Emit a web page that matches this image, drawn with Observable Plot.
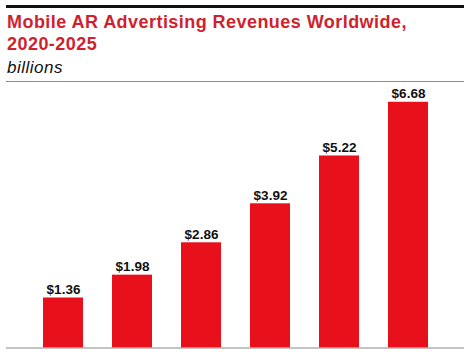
<!DOCTYPE html>
<html>
<head>
<meta charset="utf-8">
<script src="https://cdn.jsdelivr.net/npm/d3@7"></script>
<script src="https://cdn.jsdelivr.net/npm/@observablehq/plot@0.6"></script>
<style>
  html, body { margin: 0; padding: 0; background: #fff; }
  #wrap { position: relative; width: 470px; height: 352px; overflow: hidden; font-family: "Liberation Sans", Arial, sans-serif; }
  #topline { position: absolute; left: 6px; top: 5px; width: 458px; height: 3px; background: #111; }
  #title { position: absolute; left: 7px; top: 11px; margin: 0; font-size: 18px; line-height: 22px; font-weight: bold; color: #d11f2e; letter-spacing: 0.45px; }
  #subtitle { position: absolute; left: 7px; top: 57.5px; font-size: 17px; font-style: italic; color: #111; letter-spacing: 0.5px; }
  #rule { position: absolute; left: 6px; top: 80.5px; width: 458px; height: 1px; background: #8a8a8a; }
  #chart { position: absolute; left: 0; top: 82px; }
</style>
</head>
<body>
<div id="wrap">
  <div id="topline"></div>
  <h1 id="title">Mobile AR Advertising Revenues Worldwide,<br>2020-2025</h1>
  <div id="subtitle">billions</div>
  <div id="rule"></div>
  <div id="chart"></div>
</div>
<script>
const years = ["2020", "2021", "2022", "2023", "2024", "2025"];
const revenues = [1.36, 1.98, 2.86, 3.92, 5.22, 6.68];
const valueLabels = ["$1.36", "$1.98", "$2.86", "$3.92", "$5.22", "$6.68"];

const data = years.map((year, i) => ({year, value: revenues[i], label: valueLabels[i]}));

const chart = Plot.plot({
  width: 470,
  height: 270,
  marginLeft: 6,
  marginRight: 6,
  marginTop: 8,
  marginBottom: 4.5,
  style: {fontFamily: "Liberation Sans, Arial, sans-serif", background: "transparent"},
  x: {domain: years, range: [11.4, 458.6], padding: 0.425, axis: null},
  y: {domain: [0, 7], axis: null},
  marks: [
    Plot.barY(data, {x: "year", y: "value", fill: "#e8111b"}),
    Plot.ruleY([0], {stroke: "#8a8a8a", strokeWidth: 1.2}),
    Plot.text(data, {x: "year", y: "value", text: "label", lineAnchor: "bottom", dy: -4, fontSize: 13.5, fontWeight: "bold", fill: "#111"})
  ]
});
document.getElementById("chart").appendChild(chart);
</script>
</body>
</html>
